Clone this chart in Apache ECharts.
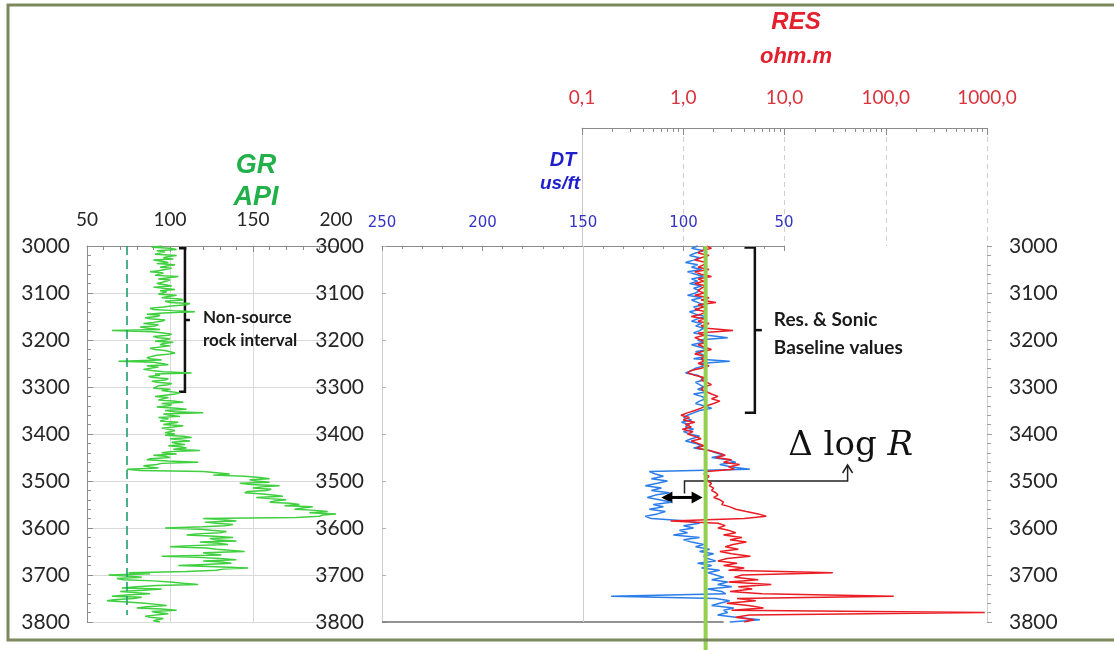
<!DOCTYPE html>
<html>
<head>
<meta charset="utf-8">
<title>GR / DT / RES log</title>
<script src="https://cdn.jsdelivr.net/npm/echarts@6/dist/echarts.min.js"></script>
<style>
  html, body { margin: 0; padding: 0; background: #fff; }
  #main { width: 1114px; height: 650px; }
</style>
</head>
<body>
<div id="main"></div>
<script>
// depth sampling (ft)
const depthTop = 3000
const depthBottom = 3800
const grStep = 2.5
const logStep = 5

// GR, API (every 2.5 ft from 3000 to 3800)
const grValues = [
  95, 89, 100, 104, 92, 97, 98, 91, 104, 99, 96, 102, 90, 95, 99, 92, 103, 98, 94, 101,
  100, 93, 88, 96, 97, 91, 105, 99, 93, 100, 99, 95, 92, 97, 101, 90, 96, 103, 94, 98,
  98, 93, 104, 99, 95, 106, 108, 97, 100, 112, 110, 101, 96, 88, 90, 102, 115, 96, 86, 94,
  92, 85, 88, 97, 95, 90, 84, 93, 91, 82, 87, 94, 65, 89, 96, 101, 99, 90, 93, 100,
  97, 91, 102, 96, 94, 100, 99, 88, 91, 97, 96, 103, 100, 92, 93, 86, 88, 95, 69, 90,
  95, 99, 86, 93, 92, 84, 89, 96, 113, 91, 94, 87, 90, 99, 97, 89, 92, 101, 99, 93,
  94, 90, 100, 95, 96, 106, 103, 97, 91, 99, 98, 93, 102, 108, 95, 101, 99, 92, 104, 110,
  97, 103, 120, 96, 100, 106, 93, 99, 98, 94, 105, 100, 96, 108, 102, 95, 94, 103, 100, 97,
  103, 97, 108, 113, 100, 106, 112, 101, 104, 109, 99, 107, 110, 102, 118, 100, 95, 104, 90, 97,
  100, 88, 86, 99, 117, 95, 92, 84, 88, 93, 74, 82, 120, 128, 136, 126, 145, 154, 160, 148,
  152, 160, 142, 149, 166, 155, 150, 161, 158, 147, 145, 156, 162, 168, 152, 160, 170, 163, 160, 172,
  178, 169, 186, 180, 175, 188, 195, 184, 200, 192, 190, 176, 120, 132, 140, 121, 128, 138, 133, 120,
  97, 118, 125, 134, 130, 116, 110, 127, 138, 124, 127, 140, 118, 129, 135, 112, 100, 122, 128, 136,
  145, 120, 123, 131, 95, 117, 130, 140, 120, 131, 137, 121, 105, 128, 147, 132, 128, 110, 75, 88,
  63, 76, 83, 68, 72, 90, 100, 108, 117, 92, 80, 71, 95, 84, 70, 79, 88, 74, 65, 83,
  78, 66, 62, 74, 85, 92, 98, 86, 80, 95, 104, 89, 92, 99, 100, 85, 88, 96, 97, 90, 94
]

// DT, us/ft (every 5 ft)
const dtValues = [
  93, 96, 90, 94, 97, 92, 95, 99, 93, 96, 91, 98, 94, 90, 96, 93, 97, 91, 95, 92,
  94, 98, 91, 96, 93, 90, 95, 92, 97, 94, 89, 93, 96, 91, 94, 90, 92, 95, 88, 78,
  93, 90, 96, 92, 88, 94, 91, 89, 95, 77, 92, 90, 94, 96, 99, 93, 91, 90, 94, 92,
  90, 93, 88, 95, 91, 89, 92, 94, 90, 86, 92, 95, 98, 100, 96, 101, 97, 99, 95, 100,
  97, 92, 96, 99, 94, 91, 95, 87, 84, 80, 86, 78, 74, 82, 76, 67, 117, 114, 110, 116,
  108, 113, 119, 111, 116, 107, 114, 118, 112, 106, 115, 110, 117, 109, 113, 119, 116, 98, 92, 100,
  95, 102, 98, 105, 92, 100, 96, 90, 94, 87, 92, 85, 90, 88, 84, 93, 86, 91, 82, 88,
  84, 80, 86, 78, 83, 76, 88, 81, 79, 136, 84, 77, 82, 86, 75, 80, 78, 83, 74, 62, 77
]

// RES, ohm.m (every 5 ft)
const resValues = [
  1.7, 1.9, 1.5, 1.4, 1.8, 1.5, 1.3, 1.7, 1.6, 1.4, 1.8, 1.3, 1.5, 1.9, 1.4, 1.6, 1.3, 1.7, 1.5, 1.4,
  1.6, 1.3, 1.8, 1.5, 2.1, 1.4, 1.6, 1.3, 1.7, 1.5, 1.2, 1.6, 1.4, 1.8, 1.5, 1.7, 3.1, 1.4, 1.6, 1.3,
  1.5, 1.7, 1.4, 1.6, 1.9, 1.5, 1.3, 1.7, 1.5, 1.6, 1.4, 1.8, 1.5, 1.2, 1.1, 1.3, 1.6, 1.5, 1.7, 1.9,
  1.6, 1.5, 1.7, 1.9, 2.2, 1.9, 2.3, 2.0, 1.7, 1.5, 1.3, 1.1, 0.95, 1.15, 1.0, 1.3, 1.05, 1.2, 0.98, 1.25,
  1.1, 1.3, 1.5, 1.2, 1.4, 1.6, 1.35, 1.8, 2.2, 2.6, 2.1, 3.0, 2.5, 3.6, 2.8, 3.2, 1.7, 1.6, 1.8, 1.7,
  1.75, 1.9, 1.8, 2.0, 1.9, 2.1, 2.2, 2.0, 2.3, 2.5, 2.4, 2.9, 3.3, 4.2, 5.5, 6.6, 4.0, 0.75, 2.2, 2.6,
  2.2, 2.8, 3.3, 2.5, 3.8, 2.9, 4.2, 3.1, 2.6, 3.5, 2.3, 3.0, 4.6, 2.7, 2.2, 3.4, 2.5, 4.0, 2.8, 30,
  3.8, 3.2, 5.5, 2.8, 7.4, 3.5, 4.8, 2.9, 6.0, 120, 3.4, 5.2, 2.7, 4.4, 6.2, 3.0, 950, 4.5, 3.3, 5.0, 4.0
]

// reference lines
const grCutoff = 74
const grCutoffEnd = 3785
const dtBaseline = 89
const dtGridValue = 150
const endLineDT = [250, 80]

// tick labels
const resTicks = [0.1, 1, 10, 100, 1000]
const resTickLabels = ['0,1', '1,0', '10,0', '100,0', '1000,0']

const sans = 'Lato, "Open Sans", sans-serif'
const arial = '"Liberation Sans", Arial, sans-serif'
const axisGray = '#8c8c8c'

const grData = grValues.map((v, i) => [v, depthTop + i * grStep])
const dtData = dtValues.map((v, i) => [v, depthTop + i * logStep])
const resData = resValues.map((v, i) => [v, depthTop + i * logStep])

// decade minor ticks for the log header
const resMinorTicks = []
resTicks.slice(0, -1).forEach(d => { for (let k = 2; k <= 9; k++) resMinorTicks.push(+(k * d).toPrecision(3)) })

// DT grid runs down to the page bottom so the baseline can too
const dtGridHeight = 404
const plotHeight = 376
const dtDepthMax = depthTop + (depthBottom - depthTop) * dtGridHeight / plotHeight

const plain = v => String(v)

const chart = echarts.init(document.getElementById('main'))

const option = {
  animation: false,
  backgroundColor: '#fff',
  grid: [
    {left: 87, top: 246, width: 249, height: plotHeight},
    {left: 382, top: 246, width: 605, height: plotHeight},
    {left: 382, top: 246, width: 402, height: dtGridHeight},
    {left: 582, top: 128, width: 405, height: 118},
    {left: 582, top: 246, width: 405, height: plotHeight}
  ],
  xAxis: [
    {
      gridIndex: 0, type: 'value', position: 'top', min: 50, max: 200, interval: 50,
      axisLine: {onZero: false, lineStyle: {color: axisGray}},
      axisTick: {inside: true, length: 6, lineStyle: {color: axisGray}},
      minorTick: {show: true, splitNumber: 5, length: 4, lineStyle: {color: axisGray}},
      axisLabel: {fontSize: 19, color: '#262626', fontFamily: sans, margin: 17},
      splitLine: {show: true, showMinLine: false, showMaxLine: false, lineStyle: {color: '#d9d9d9'}}
    },
    {gridIndex: 1, type: 'value', min: 0, max: 1, show: false},
    {
      gridIndex: 2, type: 'value', position: 'top', inverse: true, min: 50, max: 250, interval: 50,
      axisLine: {onZero: false, lineStyle: {color: axisGray}},
      axisTick: {inside: true, length: 5, lineStyle: {color: axisGray}},
      minorTick: {show: true, splitNumber: 5, length: 3, lineStyle: {color: axisGray}},
      axisLabel: {fontSize: 15, color: '#3434c4', fontFamily: '"DejaVu Sans", sans-serif', margin: 15},
      splitLine: {show: false}
    },
    {
      gridIndex: 3, type: 'log', logBase: 10, position: 'top', min: 0.1, max: 1000,
      axisLine: {show: true, onZero: false, lineStyle: {color: axisGray}},
      axisTick: {inside: true, length: 7, customValues: resTicks, lineStyle: {color: axisGray}},
      axisLabel: {
        customValues: resTicks,
        fontSize: 19, color: '#d9343c', fontFamily: sans, margin: 21,
        formatter: v => {
          const i = resTicks.findIndex(t => Math.abs(Math.log10(t) - Math.log10(v)) < 1e-6)
          return i < 0 ? '' : resTickLabels[i]
        }
      },
      splitLine: {show: true, lineStyle: {color: '#d0d0d0', type: [5, 4]}}
    },
    {
      gridIndex: 3, type: 'log', logBase: 10, position: 'top', min: 0.1, max: 1000,
      axisLine: {show: false, onZero: false},
      axisLabel: {show: false},
      splitLine: {show: false},
      axisTick: {show: true, inside: true, length: 4, customValues: resMinorTicks, lineStyle: {color: axisGray}}
    },
    {gridIndex: 4, type: 'log', logBase: 10, min: 0.1, max: 1000, show: false}
  ],
  yAxis: [
    {
      gridIndex: 0, type: 'value', inverse: true, min: depthTop, max: depthBottom, interval: 100,
      axisLine: {show: true, onZero: false, lineStyle: {color: axisGray}},
      axisTick: {show: true, inside: true, length: 6, lineStyle: {color: axisGray}},
      minorTick: {show: true, splitNumber: 5, length: 4, lineStyle: {color: axisGray}},
      axisLabel: {fontSize: 21, color: '#262626', fontFamily: sans, margin: 17, formatter: plain},
      splitLine: {show: true, showMinLine: false, lineStyle: {color: '#d9d9d9'}}
    },
    {
      gridIndex: 1, type: 'value', position: 'left', inverse: true, min: depthTop, max: depthBottom, interval: 100,
      axisLine: {show: true, onZero: false, lineStyle: {color: '#cfcfcf'}},
      axisTick: {show: true, inside: true, length: 4, lineStyle: {color: '#b0b0b0'}},
      axisLabel: {fontSize: 21, color: '#262626', fontFamily: sans, margin: 18, formatter: plain},
      splitLine: {show: false}
    },
    {
      gridIndex: 1, type: 'value', position: 'right', inverse: true, min: depthTop, max: depthBottom, interval: 100,
      axisLine: {show: true, onZero: false, lineStyle: {color: '#cfcfcf'}},
      axisTick: {show: true, length: 5, lineStyle: {color: '#a0a0a0'}},
      minorTick: {show: true, splitNumber: 5, length: 4, lineStyle: {color: '#a0a0a0'}},
      axisLabel: {fontSize: 21, color: '#262626', fontFamily: sans, margin: 22, formatter: plain},
      splitLine: {show: false}
    },
    {gridIndex: 2, type: 'value', inverse: true, min: depthTop, max: dtDepthMax, show: false},
    {gridIndex: 4, type: 'value', inverse: true, min: depthTop, max: depthBottom, show: false},
    {
      gridIndex: 3, type: 'value', min: 0, max: 1,
      axisLine: {show: true, onZero: false, lineStyle: {color: '#c8c8c8'}},
      axisTick: {show: false}, axisLabel: {show: false}, splitLine: {show: false}
    }
  ],
  series: [
    {
      name: 'GR', type: 'line', xAxisIndex: 0, yAxisIndex: 0, data: grData,
      symbol: 'none', lineStyle: {color: '#3fcf3f', width: 1.5},
      markLine: {
        silent: true, symbol: 'none', label: {show: false},
        lineStyle: {color: '#1f9e6e', type: [9, 5], width: 1.6},
        data: [[{coord: [grCutoff, depthTop]}, {coord: [grCutoff, grCutoffEnd]}]]
      }
    },
    {
      name: 'DT', type: 'line', xAxisIndex: 2, yAxisIndex: 3, data: dtData, clip: false, z: 2,
      symbol: 'none', lineStyle: {color: '#2b7de9', width: 1.5},
      markLine: {
        silent: true, symbol: 'none', label: {show: false},
        lineStyle: {color: '#cfcfcf', type: 'solid', width: 1},
        data: [[{coord: [dtGridValue, depthTop]}, {coord: [dtGridValue, depthBottom]}]]
      }
    },
    {
      name: 'RES', type: 'line', xAxisIndex: 5, yAxisIndex: 4, data: resData, z: 3,
      symbol: 'none', lineStyle: {color: '#ea1d24', width: 1.5}
    },
    {
      name: 'end', type: 'line', xAxisIndex: 2, yAxisIndex: 3, z: 3,
      data: endLineDT.map(v => [v, depthBottom]),
      symbol: 'none', lineStyle: {color: '#6e6e6e', width: 1.6}
    },
    {
      name: 'baseline', type: 'line', xAxisIndex: 2, yAxisIndex: 3, z: 5,
      data: [[dtBaseline, depthTop], [dtBaseline, dtDepthMax]],
      symbol: 'none', lineStyle: {color: '#92d050', width: 4}
    }
  ]
}
chart.setOption(option)

// annotations placed from data coordinates
const grF = {xAxisIndex: 0, yAxisIndex: 0}
const dtF = {xAxisIndex: 2, yAxisIndex: 3}
const resF = {xAxisIndex: 5, yAxisIndex: 4}
const px = (f, p) => chart.convertToPixel(f, p)

function bracket (f, xv, d0, d1, cap, tick) {
  const a = px(f, [xv, d0])
  const b = px(f, [xv, d1])
  const ym = (a[1] + b[1]) / 2
  return [
    {type: 'polyline', silent: true, shape: {points: [[a[0] - cap, a[1]], [a[0], a[1]], [b[0], b[1]], [b[0] - cap, b[1]]]},
      style: {stroke: '#111', lineWidth: 2.5, fill: null}},
    {type: 'line', silent: true, shape: {x1: a[0], y1: ym, x2: a[0] + tick, y2: ym}, style: {stroke: '#111', lineWidth: 2.5}}
  ]
}

function label (x, y, text, font, fill, align) {
  return {type: 'text', silent: true, x: x, y: y,
    style: {text: text, font: font, fill: fill, textAlign: align || 'center', textVerticalAlign: 'middle'}}
}

const grB = px(grF, [109, 3005])
const resB = px(dtF, [64.5, 3003])
const arL = px(dtF, [111, 3535])
const arR = px(dtF, [90.5, 3535])
const mid = px(dtF, [99.5, 3535])
const up = px(dtF, [99.5, 3500])
const tip = px(resF, [42, 3466])
const dl = px(resF, [45, 3425])

const graphics = [
  {type: 'rect', silent: true, z: 100, shape: {x: 8, y: 5, width: 1120, height: 635},
    style: {fill: null, stroke: '#7a8a5c', lineWidth: 3}},
  label(256, 166, 'GR', 'italic bold 27px ' + arial, '#22b04a'),
  label(256, 198, 'API', 'italic bold 27px ' + arial, '#22b04a'),
  label(563, 160, 'DT', 'italic bold 20px ' + arial, '#1f1fcc'),
  label(560, 184, 'us/ft', 'italic bold 19px ' + arial, '#1f1fcc'),
  label(796, 22, 'RES', 'italic bold 24px ' + arial, '#e4202e'),
  label(796, 57, 'ohm.m', 'italic bold 22px ' + arial, '#e4202e'),
  label(grB[0] + 18, 318, 'Non-source', 'bold 17px ' + sans, '#1a1a1a', 'left'),
  label(grB[0] + 18, 341, 'rock interval', 'bold 17px ' + sans, '#1a1a1a', 'left'),
  label(resB[0] + 19, 320, 'Res. & Sonic', 'bold 19px ' + sans, '#1a1a1a', 'left'),
  label(resB[0] + 19, 348, 'Baseline values', 'bold 19px ' + sans, '#1a1a1a', 'left'),
  {type: 'text', silent: true, x: dl[0], y: dl[1],
    style: {text: '{d|Δ\u00a0}{l|log\u00a0}{r|R}', textAlign: 'center', textVerticalAlign: 'middle',
      rich: {
        d: {font: '34px "DejaVu Serif", serif', fill: '#111'},
        l: {font: '34px "DejaVu Serif", serif', fill: '#111'},
        r: {font: 'italic 34px "DejaVu Serif", serif', fill: '#111'}
      }}},
  // double arrow
  {type: 'line', silent: true, shape: {x1: arL[0] + 8, y1: arL[1], x2: arR[0] - 8, y2: arR[1]}, style: {stroke: '#000', lineWidth: 3}},
  {type: 'polygon', silent: true, shape: {points: [[arL[0], arL[1]], [arL[0] + 11, arL[1] - 6], [arL[0] + 11, arL[1] + 6]]}, style: {fill: '#000'}},
  {type: 'polygon', silent: true, shape: {points: [[arR[0], arR[1]], [arR[0] - 11, arR[1] - 6], [arR[0] - 11, arR[1] + 6]]}, style: {fill: '#000'}},
  // connector to the label
  {type: 'polyline', silent: true, shape: {points: [[mid[0], mid[1] - 4], [up[0], up[1]], [tip[0], up[1]], [tip[0], tip[1]]]},
    style: {stroke: '#222', lineWidth: 1.5, fill: null}},
  {type: 'polyline', silent: true, shape: {points: [[tip[0] - 5, tip[1] + 8], [tip[0], tip[1]], [tip[0] + 5, tip[1] + 8]]},
    style: {stroke: '#222', lineWidth: 1.5, fill: null}}
].concat(
  bracket(grF, 109, 3005, 3310, 6, 5),
  bracket(dtF, 64.5, 3003, 3355, 10, 7)
)

chart.setOption({graphic: graphics})
</script>
</body>
</html>
